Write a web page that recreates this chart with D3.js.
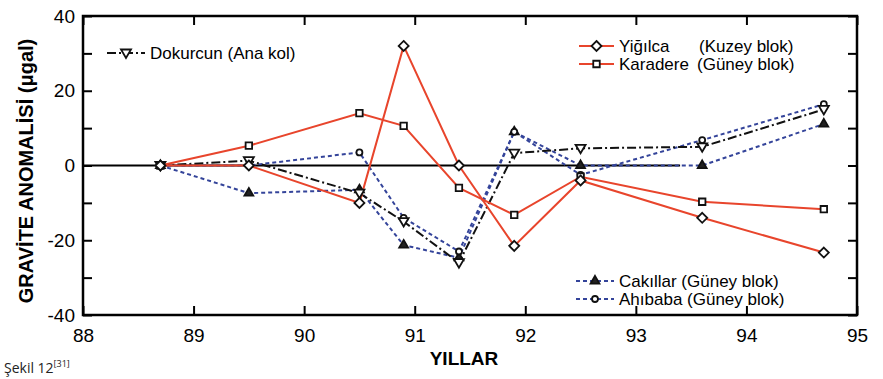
<!DOCTYPE html>
<html>
<head>
<meta charset="utf-8">
<script src="https://cdn.jsdelivr.net/npm/d3@7"></script>
<style>
  body { margin: 0; background: #fff; }
  text { font-family: "Liberation Sans", Arial, sans-serif; }
</style>
</head>
<body>
<div id="chart"></div>
<script>
// data
var years = [88.7, 89.5, 90.5, 90.9, 91.4, 91.9, 92.5, 93.6, 94.7];
var yigilca = [0, 0, -10, 32, 0, -21.5, -4, -14, -23.3];
var karadere = [0, 5.3, 14, 10.6, -6, -13.2, -3, -9.7, -11.7];
var dokurcun = [0, 1.3, -7.4, -15, -26, 3.3, 4.6, 5, 15];
var cakillar = [0, -7.4, -6.5, -21.3, -24.7, 9, 0, 0, 11.1];
var ahibaba = [0, 0, 3.5, -14, -23, 9, -2.5, 6.8, 16.4];
var xTicks = [88, 89, 90, 91, 92, 93, 94, 95];
var yTicks = [-40, -20, 0, 20, 40];
var yMinor = [-30, -10, 10, 30];

var red = "#e8452c", blue = "#34449a";

// set the dimensions and margins of the graph
var margin = { top: 16, right: 26, bottom: 64, left: 83 },
    width = 883 - margin.left - margin.right,
    height = 379 - margin.top - margin.bottom;

var svg = d3.select("#chart")
    .append("svg")
    .attr("width", 883)
    .attr("height", 379)
    .append("g")
    .attr("transform", "translate(" + margin.left + "," + margin.top + ")");

var x = d3.scaleLinear().domain([88, 95]).range([0, width]);
var y = d3.scaleLinear().domain([-40, 40]).range([height, 0]);

// zero reference line
svg.append("line")
    .attr("x1", x(88)).attr("x2", x(93.4))
    .attr("y1", y(0)).attr("y2", y(0))
    .attr("stroke", "#000").attr("stroke-width", 2);

// inward ticks on all four sides
svg.append("g")
    .attr("transform", "translate(0," + height + ")")
    .call(d3.axisBottom(x).tickValues(xTicks).tickSize(-9).tickPadding(14).tickFormat(d3.format("d")))
    .call(function (g) { g.select(".domain").remove(); });
svg.append("g")
    .call(d3.axisTop(x).tickValues(xTicks).tickSize(-9).tickFormat(""))
    .call(function (g) { g.select(".domain").remove(); });
svg.append("g")
    .call(d3.axisLeft(y).tickValues(yTicks.concat(yMinor)).tickSize(-9).tickPadding(8)
        .tickFormat(function (d) { return yTicks.indexOf(d) >= 0 ? d : ""; }))
    .call(function (g) { g.select(".domain").remove(); });
svg.append("g")
    .attr("transform", "translate(" + width + ",0)")
    .call(d3.axisRight(y).tickValues(yTicks.concat(yMinor)).tickSize(-9).tickFormat(""))
    .call(function (g) { g.select(".domain").remove(); });

svg.selectAll(".tick line").attr("stroke", "#000").attr("stroke-width", 2);
svg.selectAll(".tick text").attr("fill", "#000").style("font-size", "19px");

// frame
svg.append("rect")
    .attr("width", width).attr("height", height)
    .attr("fill", "none").attr("stroke", "#000").attr("stroke-width", 2.5);

var series = [
    { name: "cakillar", vals: cakillar, color: blue, width: 2, dash: "4,3", marker: "up" },
    { name: "ahibaba", vals: ahibaba, color: blue, width: 2, dash: "4,3", marker: "circle" },
    { name: "dokurcun", vals: dokurcun, color: "#111", width: 2, dash: "9,3,2,3", marker: "down" },
    { name: "karadere", vals: karadere, color: red, width: 2, dash: null, marker: "square" },
    { name: "yigilca", vals: yigilca, color: red, width: 2, dash: null, marker: "diamond" }
];

var line = d3.line()
    .x(function (d) { return x(d[0]); })
    .y(function (d) { return y(d[1]); });

function markerPath(type) {
    if (type == "up") return d3.symbol().type(d3.symbolTriangle).size(34)();
    if (type == "down") return "M-5,-3.5L5,-3.5L0,5Z";
    if (type == "circle") return d3.symbol().type(d3.symbolCircle).size(28)();
    if (type == "square") return d3.symbol().type(d3.symbolSquare).size(42)();
    return "M0,-5L5,0L0,5L-5,0Z";
}

function drawMarker(g, type, cx, cy) {
    g.append("path")
        .attr("d", markerPath(type))
        .attr("transform", "translate(" + cx + "," + cy + ")")
        .attr("fill", type == "up" ? "#222" : "#fff")
        .attr("stroke", "#111")
        .attr("stroke-width", 1.8);
}

series.forEach(function (s) {
    var pts = years.map(function (yr, i) { return [yr, s.vals[i]]; });
    svg.append("path")
        .attr("d", line(pts))
        .attr("fill", "none")
        .attr("stroke", s.color)
        .attr("stroke-width", s.width)
        .attr("stroke-dasharray", s.dash);
});
series.forEach(function (s) {
    var g = svg.append("g");
    years.forEach(function (yr, i) { drawMarker(g, s.marker, x(yr), y(s.vals[i])); });
});

// legends (page coordinates)
var root = d3.select("svg");
function legendEntry(x1, x2, ly, s, label, label2, x3) {
    root.append("line")
        .attr("x1", x1).attr("x2", x2).attr("y1", ly).attr("y2", ly)
        .attr("stroke", s.color).attr("stroke-width", s.width)
        .attr("stroke-dasharray", s.dash);
    drawMarker(root, s.marker, (x1 + x2) / 2, ly);
    root.append("text").attr("x", x2 + 5).attr("y", ly + 6)
        .style("font-size", "17px").text(label);
    if (label2) root.append("text").attr("x", x3).attr("y", ly + 6)
        .style("font-size", "17px").text(label2);
}
legendEntry(107, 145, 53, series[2], "Dokurcun (Ana kol)");
legendEntry(579, 614, 46, series[4], "Yiğılca", "(Kuzey blok)", 699);
legendEntry(579, 614, 64, series[3], "Karadere", "(Güney blok)", 697);
legendEntry(576, 614, 281, series[0], "Cakıllar (Güney blok)");
legendEntry(576, 614, 299, series[1], "Ahıbaba (Güney blok)");

// axis titles
root.append("text")
    .attr("x", margin.left + width / 2 - 6)
    .attr("y", 365)
    .attr("text-anchor", "middle")
    .style("font-size", "19px").style("font-weight", "bold")
    .text("YILLAR");

root.append("text")
    .attr("transform", "translate(33,171) rotate(-90)")
    .attr("text-anchor", "middle")
    .style("font-size", "20px").style("font-weight", "bold")
    .text("GRAVİTE ANOMALİSİ (μgal)");

// caption at the bottom edge
var cap = root.append("text")
    .attr("x", 4).attr("y", 373)
    .style("font-family", "'Open Sans', sans-serif")
    .style("font-size", "14px")
    .attr("fill", "#222");
cap.append("tspan").text("Şekil 12");
cap.append("tspan").attr("dy", -6).style("font-size", "9px").text("[31]");
</script>
</body>
</html>
